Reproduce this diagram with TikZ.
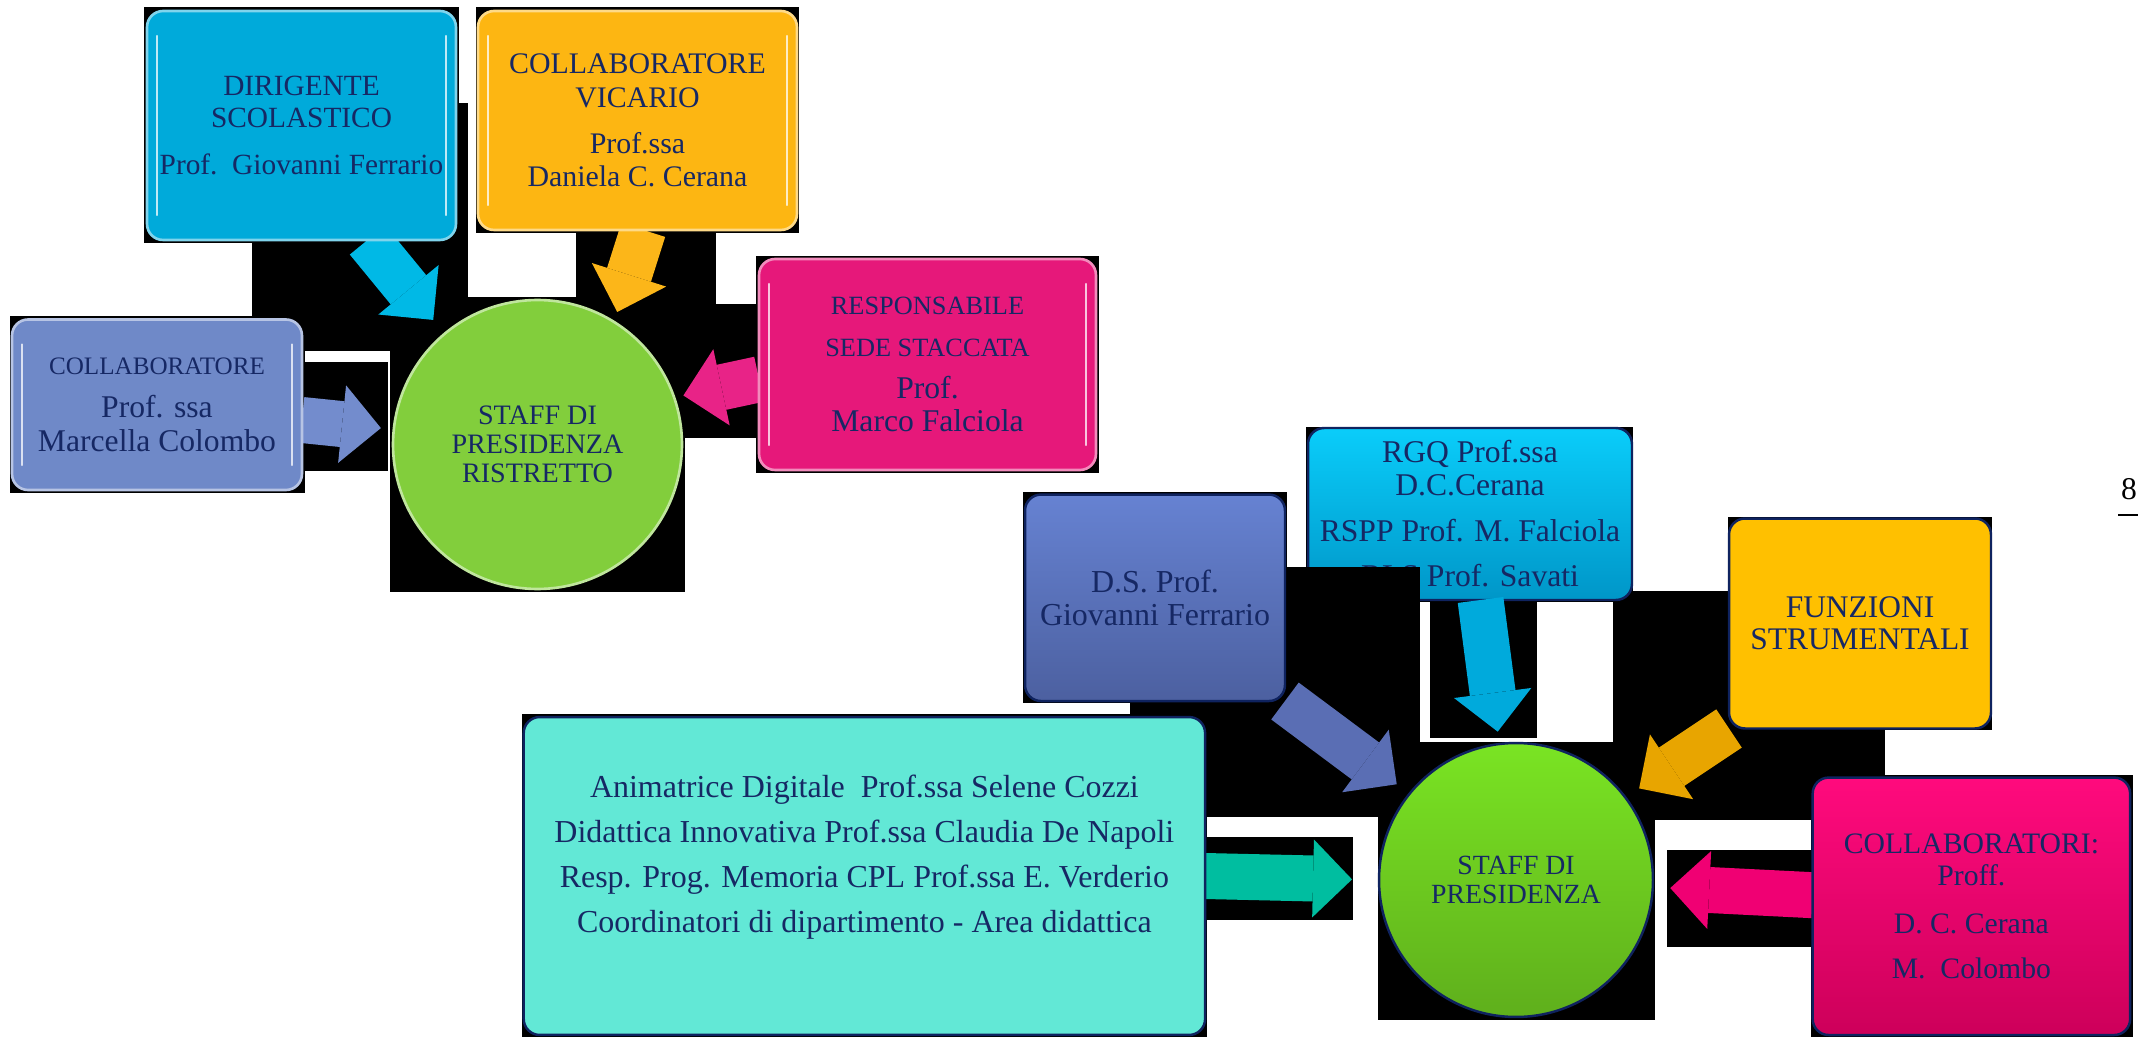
\documentclass[tikz,border=0pt]{standalone}
\usepackage{fontspec}
\setmainfont{Liberation Serif}
\usetikzlibrary{calc,arrows.meta,positioning}

\definecolor{testo}{RGB}{22,40,100}
\definecolor{navy}{RGB}{15,35,95}
% colori dei riquadri
\definecolor{ciano}{RGB}{0,170,218}
\definecolor{arancio}{RGB}{253,182,18}
\definecolor{pervinca}{RGB}{111,137,200}
\definecolor{magentaA}{RGB}{230,24,122}
\definecolor{verdeA}{RGB}{130,206,60}
\definecolor{bluSu}{RGB}{102,130,210}
\definecolor{bluGiu}{RGB}{76,96,160}
\definecolor{cianoSu}{RGB}{10,205,250}
\definecolor{cianoGiu}{RGB}{0,150,200}
\definecolor{giallo}{RGB}{255,192,0}
\definecolor{turchese}{RGB}{98,232,214}
\definecolor{fucsiaSu}{RGB}{255,10,125}
\definecolor{fucsiaGiu}{RGB}{205,0,90}
\definecolor{verdeSu}{RGB}{122,228,35}
\definecolor{verdeGiu}{RGB}{95,175,28}
% colori delle frecce
\definecolor{frCiano}{RGB}{0,185,230}
\definecolor{frArancio}{RGB}{252,182,25}
\definecolor{frPervinca}{RGB}{115,140,205}
\definecolor{frMagenta}{RGB}{232,35,135}
\definecolor{frBlu}{RGB}{90,110,180}
\definecolor{frCianoB}{RGB}{0,170,220}
\definecolor{frGiallo}{RGB}{232,165,0}
\definecolor{frTeal}{RGB}{0,190,160}
\definecolor{frFucsia}{RGB}{240,0,115}

\newcommand{\carattere}[2]{\fontsize{#1}{#2}\selectfont}

\pgfdeclarelayer{sfondo}
\pgfdeclarelayer{frecce}
\pgfsetlayers{sfondo,frecce,main}

\begin{document}
\begin{tikzpicture}[x=0.02cm,y=-0.02cm,
    scatola/.style={rectangle,rounded corners=0.32cm,inner sep=0pt,outer sep=0pt,align=center,text=testo},
    sinistra/.style={scatola,fill=#1,draw=#1!50!white,line width=1.5pt,
        path picture={
            \draw[#1!25!white,line width=1.3pt,line cap=round]
                ([xshift=0.2cm,yshift=-0.5cm]path picture bounding box.north west) -- ([xshift=0.2cm,yshift=0.5cm]path picture bounding box.south west);
            \draw[#1!25!white,line width=1.3pt,line cap=round]
                ([xshift=-0.2cm,yshift=-0.5cm]path picture bounding box.north east) -- ([xshift=-0.2cm,yshift=0.5cm]path picture bounding box.south east);
        }},
    destra/.style 2 args={scatola,top color=#1,bottom color=#2,draw=navy,line width=1.4pt},
    tondo/.style={circle,inner sep=0pt,outer sep=0pt,align=center,text=testo},
    freccia/.style={line width=0.92cm,-{Triangle[length=0.78cm,width=1.56cm,line width=0pt]}}]

            \useasboundingbox (0,0) rectangle (2138,1037);

            \coordinate (cDir) at (301.5,125.5);
            \coordinate (cVic) at (637.5,120.5);
            \coordinate (cCol) at (157,404.75);
            \coordinate (cResp) at (927.5,364.5);
            \coordinate (cStaffR) at (537.5,444.5);
            \coordinate (cDs) at (1155,597.8);
            \coordinate (cRgq) at (1470,514);
            \coordinate (cFunz) at (1860,623.5);
            \coordinate (cAnim) at (864.4,876);
            \coordinate (cColls) at (1971.4,906.3);
            \coordinate (cStaff) at (1516,880);

        % riquadri neri dietro le forme
        \begin{pgfonlayer}{sfondo}
        \foreach \xa/\ya/\xb/\yb in
        {144/7/459/243, 252/103/468/351, 476/7/799/233, 576/231/716/329,
         468/297/576/351, 576/329/685/351, 390/351/685/592, 670/304/756/438,
         756/256/1099/473, 9.6/316.5/305/492.5, 305/361.7/388/471,
         1023/492/1287/703, 1306/427/1633/602, 1130/703/1287/817,
         1430/602/1537/738, 1378/742/1655/1020, 1207/837/1353/920,
         522/714/1207/1037, 1728/517/1992/730, 1613/591/1728/820,
         1728/730/1885/820, 1667/850/1812/947, 1811/774.5/2133/1037
        }
        {
            \fill[black] (\xa,\ya) rectangle (\xb,\yb);
        };
        \node[destra={cianoSu}{cianoGiu},minimum width=6.48cm,minimum height=3.44cm,font=\carattere{18}{18.5}] (rgq) at (cRgq)
            {RGQ Prof.ssa\\D.C.Cerana\\[7.5pt]RSPP Prof. M. Falciola\\[7.5pt]RLS Prof. Savati};
        \fill[black] (1287,567) rectangle (1420,817);
        \end{pgfonlayer}

        % staff ristretto
        \node[sinistra=ciano,minimum width=6.18cm,minimum height=4.58cm,font=\carattere{16.7}{18.3}] (dir) at (cDir)
            {DIRIGENTE\\SCOLASTICO\\[8pt]Prof.\ \ Giovanni Ferrario};
        \node[sinistra=arancio,minimum width=6.38cm,minimum height=4.38cm,font=\carattere{17}{19}] (vic) at (cVic)
            {COLLABORATORE\\VICARIO\\[7pt]Prof.ssa\\Daniela C. Cerana};
        \node[sinistra=pervinca,minimum width=5.8cm,minimum height=3.41cm,font=\carattere{18}{19.5}] (col) at (cCol)
            {{\carattere{14.3}{17}COLLABORATORE}\\[5pt]Prof. ssa\\Marcella Colombo};
        \node[sinistra=magentaA,minimum width=6.74cm,minimum height=4.22cm,font=\carattere{18}{19}] (resp) at (cResp)
            {{\carattere{15}{17}RESPONSABILE}\\[5pt]{\carattere{15}{17}SEDE STACCATA}\\[5pt]Prof.\\Marco Falciola};
        \node[tondo,fill=verdeA,draw=verdeA!50!white,line width=1.5pt,minimum size=5.78cm,font=\carattere{16}{16.5}] (staffR) at (cStaffR)
            {STAFF DI\\PRESIDENZA\\RISTRETTO};

        % staff di presidenza
        \node[destra={bluSu}{bluGiu},minimum width=5.2cm,minimum height=4.13cm,font=\carattere{18.2}{18.5}] (ds) at (cDs)
            {D.S. Prof.\\Giovanni Ferrario};
        \node[destra={giallo}{giallo},minimum width=5.24cm,minimum height=4.2cm,font=\carattere{17.9}{18}] (funz) at (cFunz)
            {FUNZIONI\\STRUMENTALI};
        \node[destra={turchese}{turchese},minimum width=13.63cm,minimum height=6.36cm,font=\carattere{18.2}{25.6}] (anim) at (cAnim)
            {Animatrice Digitale\ \ Prof.ssa Selene Cozzi\\Didattica Innovativa Prof.ssa Claudia De Napoli\\Resp. Prog. Memoria CPL Prof.ssa E. Verderio\\Coordinatori di dipartimento - Area didattica\\\mbox{}};
        \node[destra={fucsiaSu}{fucsiaGiu},minimum width=6.35cm,minimum height=5.15cm,font=\carattere{16.9}{18.5}] (colls) at (cColls)
            {COLLABORATORI:\\Proff.\\[8.5pt]D. C. Cerana\\[7.5pt]M.\ \ Colombo};
        \node[tondo,top color=verdeSu,bottom color=verdeGiu,draw=navy,line width=1.4pt,minimum size=5.48cm,font=\carattere{15.8}{16.2}] (staff) at (cStaff)
            {STAFF DI\\PRESIDENZA};

        % frecce
        \begin{pgfonlayer}{frecce}
        \draw[freccia,frCiano,shorten >=0.36cm] (dir.-60) -- (staffR.130.7);
        \draw[freccia,frArancio,shorten >=0.21cm] (vic.-87.4) -- (staffR.58.1);
        \draw[freccia,frPervinca,shorten >=0.26cm] (col.-6.2) -- (staffR.174);
        \draw[freccia,frMagenta,shorten >=0.19cm] (resp.185.6) -- (staffR.19.1);
        \draw[freccia,frBlu,shorten >=0.32cm] (ds.south east) -- (staff.141.8);
        \draw[freccia,frCianoB,shorten >=0.25cm] (rgq.-83) -- (staff.97.4);
        \draw[freccia,frGiallo,shorten >=0.33cm] (funz.south west) -- (staff.37.3);
        \draw[freccia,frTeal,shorten >=0.54cm] (anim.-0.6) -- (staff.180);
        \draw[freccia,frFucsia,shorten >=0.35cm] (colls.176.8) -- (staff.-3.9);
        \end{pgfonlayer}

        % numero di pagina
        \node[font=\carattere{18}{20}] (pag) at (2129,489) {8};
        \draw[semithick] (2118,515) -- (2138,515);
\end{tikzpicture}
\end{document}
